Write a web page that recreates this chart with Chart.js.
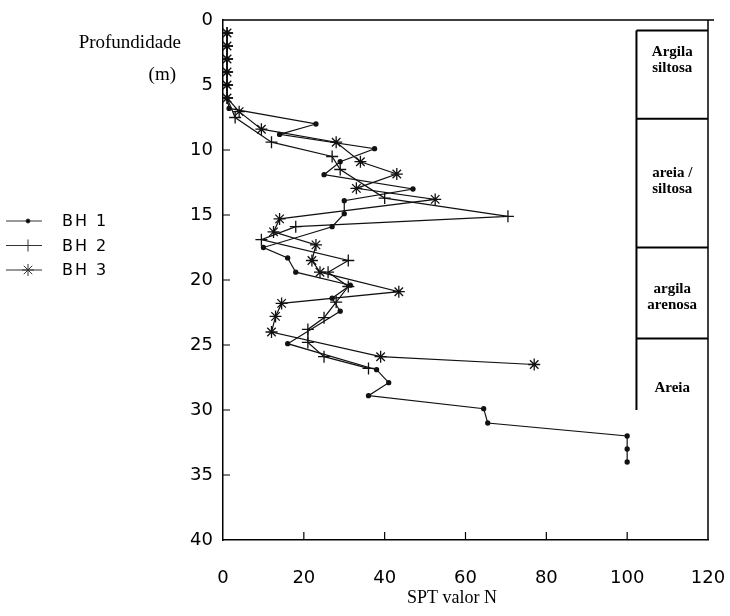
<!DOCTYPE html>
<html lang="pt">
<head>
<meta charset="UTF-8">
<title>SPT valor N</title>
<script src="https://cdn.jsdelivr.net/npm/chart.js@4.4.1/dist/chart.umd.min.js"></script>
<style>
    html, body { margin: 0; padding: 0; background: #fff; }
    #grafico { display: block; }
</style>
</head>
<body>
<canvas id="grafico" width="730" height="616"></canvas>
<script>
    // profundidade (m) e valor N de cada furo
    const profBH1 = [1, 2, 3, 4, 5, 6, 6.8, 8, 8.8, 9.9, 10.9, 11.9, 13, 13.9, 14.9, 15.9, 17.5, 18.3, 19.4, 20.4, 21.4, 22.4, 24.9, 26.9, 27.9, 28.9, 29.9, 31, 32, 33, 34];
    const nBH1 = [1, 1, 1, 1, 1, 1, 1.5, 23, 14, 37.5, 29, 25, 47, 30, 30, 27, 10, 16, 18, 31.5, 27, 29, 16, 38, 41, 36, 64.5, 65.5, 100, 100, 100];

    const profBH2 = [1, 2, 3, 4, 5, 6, 7.5, 9.4, 10.5, 11.5, 13.7, 15.1, 15.9, 16.9, 18.5, 19.4, 20.5, 21.7, 22.9, 23.8, 24.8, 25.9, 26.8];
    const nBH2 = [1, 1, 1, 1, 1, 1, 3, 12, 27, 29, 40, 70.5, 18, 9.5, 31, 26, 31, 28, 25, 21, 21, 25, 36];

    const profBH3 = [1, 2, 3, 4, 5, 6, 7.05, 8.4, 9.4, 10.9, 11.85, 12.95, 13.8, 15.3, 16.3, 17.3, 18.5, 19.4, 20.9, 21.8, 22.8, 24, 25.9, 26.5];
    const nBH3 = [1, 1, 1, 1, 1, 1, 4, 9.5, 28, 34, 43, 33, 52.5, 14, 12.5, 23, 22, 24, 43.5, 14.5, 13, 12, 39, 77];

    const xTicks = [0, 20, 40, 60, 80, 100, 120];
    const yTicks = [0, 5, 10, 15, 20, 25, 30, 35, 40];

    // perfil do solo
    const camadasNome = [["Argila", "siltosa"], ["areia /", "siltosa"], ["argila", "arenosa"], ["Areia"]];
    const camadasTopo = [0.8, 7.6, 17.5, 24.5];
    const camadasBase = [7.6, 17.5, 24.5, 30];
    const camadasTextoProf = [3.1, 12.4, 21.3, 28.3];
    const perfilInicioN = 102.3;

    function pares(prof, n) {
        return prof.map((p, i) => ({ x: n[i], y: p }));
    }

    const pluginExtras = {
        id: "extras",
        afterDraw(chart) {
            const ctx = chart.ctx;
            const area = chart.chartArea;
            const sx = chart.scales.x;
            const sy = chart.scales.y;
            ctx.save();
            ctx.strokeStyle = "#000";
            ctx.fillStyle = "#000";

            // moldura de cima e da direita
            ctx.lineWidth = 1.5;
            ctx.beginPath();
            ctx.moveTo(area.left, area.top);
            ctx.lineTo(area.right + 6, area.top);
            ctx.moveTo(area.right, area.top);
            ctx.lineTo(area.right, area.bottom);
            ctx.stroke();

            // marcas curtas para dentro
            ctx.lineWidth = 1.2;
            ctx.beginPath();
            xTicks.slice(1, -1).forEach(v => {
                const px = sx.getPixelForValue(v);
                ctx.moveTo(px, area.bottom);
                ctx.lineTo(px, area.bottom - 8);
            });
            yTicks.slice(1, -1).forEach(v => {
                const py = sy.getPixelForValue(v);
                ctx.moveTo(area.left, py);
                ctx.lineTo(area.left + 7, py);
            });
            ctx.stroke();

            // coluna do perfil
            const xl = sx.getPixelForValue(perfilInicioN);
            const xr = area.right;
            ctx.lineWidth = 2;
            ctx.beginPath();
            ctx.moveTo(xl, sy.getPixelForValue(camadasTopo[0]));
            ctx.lineTo(xl, sy.getPixelForValue(camadasBase[camadasBase.length - 1]));
            camadasTopo.forEach(t => {
                const py = sy.getPixelForValue(t);
                ctx.moveTo(xl, py);
                ctx.lineTo(xr, py);
            });
            ctx.stroke();

            ctx.font = "bold 15px 'Liberation Serif'";
            ctx.textAlign = "center";
            ctx.textBaseline = "middle";
            const xc = (xl + xr) / 2;
            camadasNome.forEach((linhas, i) => {
                const py = sy.getPixelForValue(camadasTextoProf[i]);
                const y0 = py - (linhas.length - 1) * 8;
                linhas.forEach((t, j) => ctx.fillText(t, xc, y0 + j * 16));
            });

            // titulos dos eixos
            ctx.font = "18px 'Liberation Serif'";
            ctx.fillText("SPT valor N", 452, 598);
            ctx.font = "19px 'Liberation Serif'";
            ctx.textAlign = "right";
            ctx.fillText("Profundidade", 181, 43);
            ctx.fillText("(m)", 176, 75);

            // legenda
            ctx.font = "16px 'DejaVu Sans'";
            ctx.textAlign = "left";
            chart.data.datasets.forEach((ds, i) => {
                const ly = 221 + i * 24.5;
                ctx.strokeStyle = "#333";
                ctx.lineWidth = 1;
                ctx.beginPath();
                ctx.moveTo(6, ly);
                ctx.lineTo(42, ly);
                ctx.stroke();
                Chart.helpers.drawPoint(ctx, {
                    pointStyle: ds.pointStyle,
                    radius: ds.pointRadius,
                    rotation: 0,
                    borderWidth: ds.pointBorderWidth
                }, 28, ly);
                ctx.fillStyle = "#000";
                ctx.letterSpacing = "2px";
                ctx.fillText(ds.label, 62, ly + 1);
                ctx.letterSpacing = "0px";
            });
            ctx.restore();
        }
    };

    const estiloSerie = {
        showLine: true,
        borderColor: "#111",
        backgroundColor: "#111",
        borderWidth: 1.2,
        pointBorderColor: "#111",
        pointBackgroundColor: "#111",
        pointBorderWidth: 1.3,
        tension: 0
    };

    new Chart(document.getElementById("grafico"), {
        type: "scatter",
        data: {
            datasets: [
                Object.assign({ label: "BH 1", data: pares(profBH1, nBH1), pointStyle: "circle", pointRadius: 2 }, estiloSerie),
                Object.assign({ label: "BH 2", data: pares(profBH2, nBH2), pointStyle: "cross", pointRadius: 6 }, estiloSerie),
                Object.assign({ label: "BH 3", data: pares(profBH3, nBH3), pointStyle: "star", pointRadius: 6 }, estiloSerie)
            ]
        },
        options: {
            responsive: false,
            animation: false,
            devicePixelRatio: 1,
            layout: { padding: { top: 20, right: 22, left: 0, bottom: 0 } },
            plugins: {
                legend: { display: false },
                tooltip: { enabled: false }
            },
            scales: {
                x: {
                    type: "linear",
                    position: "bottom",
                    min: 0,
                    max: 120,
                    afterFit: s => {
                        s.height = 76;
                        s.paddingLeft = 0;
                        s.paddingRight = 0;
                    },
                    afterBuildTicks: s => { s.ticks = xTicks.map(v => ({ value: v })); },
                    grid: { display: false, drawTicks: false },
                    border: { color: "#000", width: 1.5 },
                    ticks: {
                        color: "#000",
                        padding: 28,
                        font: { family: "'DejaVu Sans'", size: 18 }
                    }
                },
                y: {
                    type: "linear",
                    position: "left",
                    reverse: true,
                    min: 0,
                    max: 40,
                    afterFit: s => {
                        s.width = 223;
                        s.paddingTop = 0;
                        s.paddingBottom = 0;
                    },
                    afterBuildTicks: s => { s.ticks = yTicks.map(v => ({ value: v })); },
                    grid: { display: false, drawTicks: false },
                    border: { color: "#000", width: 1.5 },
                    ticks: {
                        color: "#000",
                        padding: 10,
                        font: { family: "'DejaVu Sans'", size: 18 }
                    }
                }
            }
        },
        plugins: [pluginExtras]
    });
</script>
</body>
</html>
